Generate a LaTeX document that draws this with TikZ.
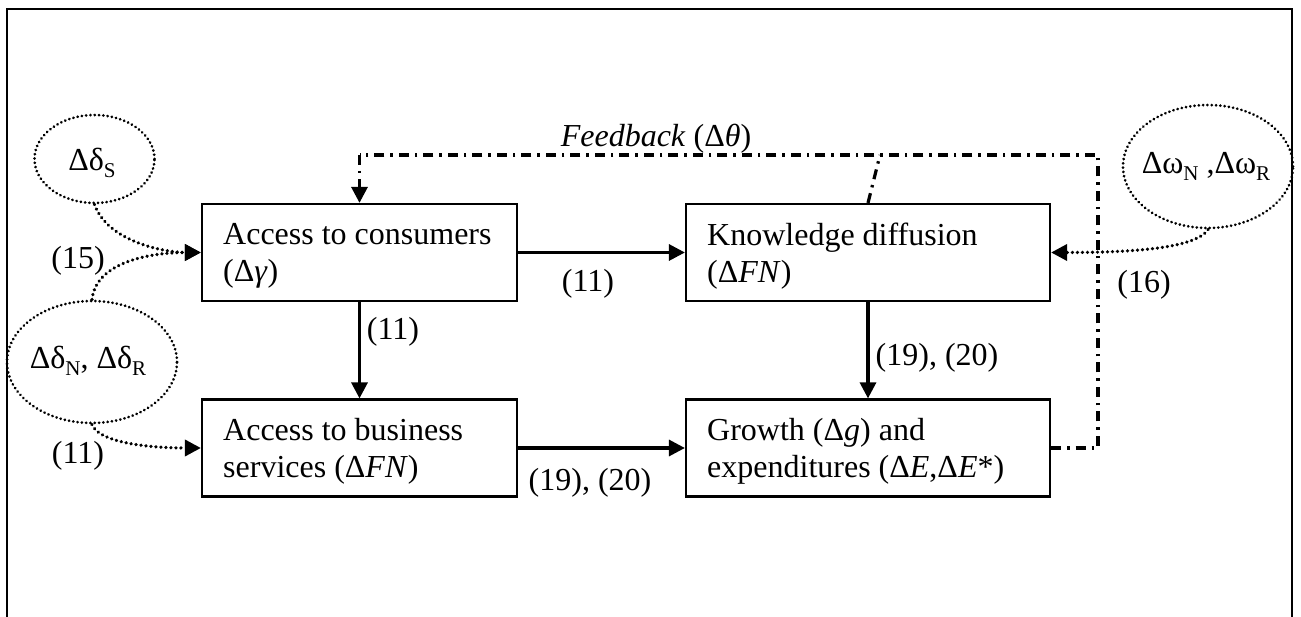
\documentclass[tikz,border=0pt]{standalone}
\usepackage{fontspec}
\setmainfont{Liberation Serif}
\usetikzlibrary{arrows.meta,shapes.geometric}
\newcommand\lsub[1]{\raisebox{-0.22em}{\fontsize{21}{21}\selectfont #1}}
\begin{document}
\begin{tikzpicture}[x=1pt,y=-1pt,
  every node/.style={font=\fontsize{32}{37}\selectfont},
  box/.style={draw, line width=2.2pt, inner sep=0pt, minimum height=97pt},
  btext/.style={anchor=west, align=left, inner sep=0pt},
  oval/.style={ellipse, draw, line width=3pt, line cap=round, dash pattern=on 0.01pt off 4.3pt, inner sep=0pt},
  tip/.style={-{Triangle[length=16pt,width=16pt]}},
  flow/.style={line width=3.2pt, tip},
  dotflow/.style={line width=3.6pt, line cap=round, dash pattern=on 0.01pt off 5pt, tip},
  fb/.style={line width=3.2pt, dash pattern=on 10pt off 6pt on 2.5pt off 6pt},
  lbl/.style={inner sep=0pt}
]
\useasboundingbox (0,0) rectangle (1301,617);
% outer frame
\draw[line width=2.8pt] (7,617) -- (7,9) -- (1292,9) -- (1292,617);

% boxes
\node[box, minimum width=315pt] (A) at (359.5,252.5) {};
\node[btext] (At) at (223,256) {Access to consumers\\(Δ\textit{γ})};
\node[box, minimum width=364pt] (B) at (868,252.5) {};
\node[btext] (Bt) at (707,256) {Knowledge diffusion\\(Δ\textit{FN})};
\node[box, minimum width=315pt] (C) at (359.5,448) {};
\node[btext] (Ct) at (223,451.5) {Access to business\\services (Δ\textit{FN})};
\node[box, minimum width=364pt] (D) at (868,448) {};
\node[btext] (Dt) at (707,451.5) {Growth (Δ\textit{g}) and\\expenditures (Δ\textit{E},Δ\textit{E}*)};

% ellipses
\node[oval, minimum width=120pt, minimum height=88pt] (dS) at (94.5,159) {};
\node at (92,163) {Δδ\lsub{S}};
\node[oval, minimum width=170pt, minimum height=122pt] (dN) at (92,362) {};
\node at (88,361) {Δδ\lsub{N}, Δδ\lsub{R}};
\node[oval, minimum width=170pt, minimum height=123pt] (wN) at (1208,166.5) {};
\node at (1206,166) {Δω\lsub{N} ,Δω\lsub{R}};

% solid flows
\draw[flow] (A.east) -- (B.west);
\draw[flow] (A.south) -- (C.north);
\draw[flow] (C.east) -- (D.west);
\draw[flow] (B.south) -- (D.north);

% dotted flows
\draw[dotflow] (dS.south) .. controls (108,242) and (165,252.5) .. (A.west);
\draw[dotflow] (dN.north) .. controls (96,262) and (150,252.5) .. (A.west);
\draw[dotflow] (dN.south) .. controls (100,445) and (160,448) .. (C.west);
\draw[dotflow] (wN.south) .. controls (1195,250) and (1120,252.5) .. (B.east);

% feedback
\coordinate (fr) at (1098,448);
\coordinate (ftr) at (1098,155);
\coordinate (ftl) at (359.5,155);
\coordinate (fj) at (880,155);
\draw[fb] (D.east) -- (fr) -- (ftr) -- (ftl);
\draw[fb, tip] (ftl) -- (A.north);
\draw[fb] (B.north) -- (fj);

% labels
\node[lbl] at (78,261) {(15)};
\node[lbl] at (78,456) {(11)};
\node[lbl] at (588,284) {(11)};
\node[lbl] at (393,332) {(11)};
\node[lbl] at (937,358) {(19), (20)};
\node[lbl] at (590,483) {(19), (20)};
\node[lbl] at (1144,285) {(16)};
\node[lbl, anchor=base] at (656,147) {\textit{Feedback} (Δ\textit{θ})};
\end{tikzpicture}
\end{document}
